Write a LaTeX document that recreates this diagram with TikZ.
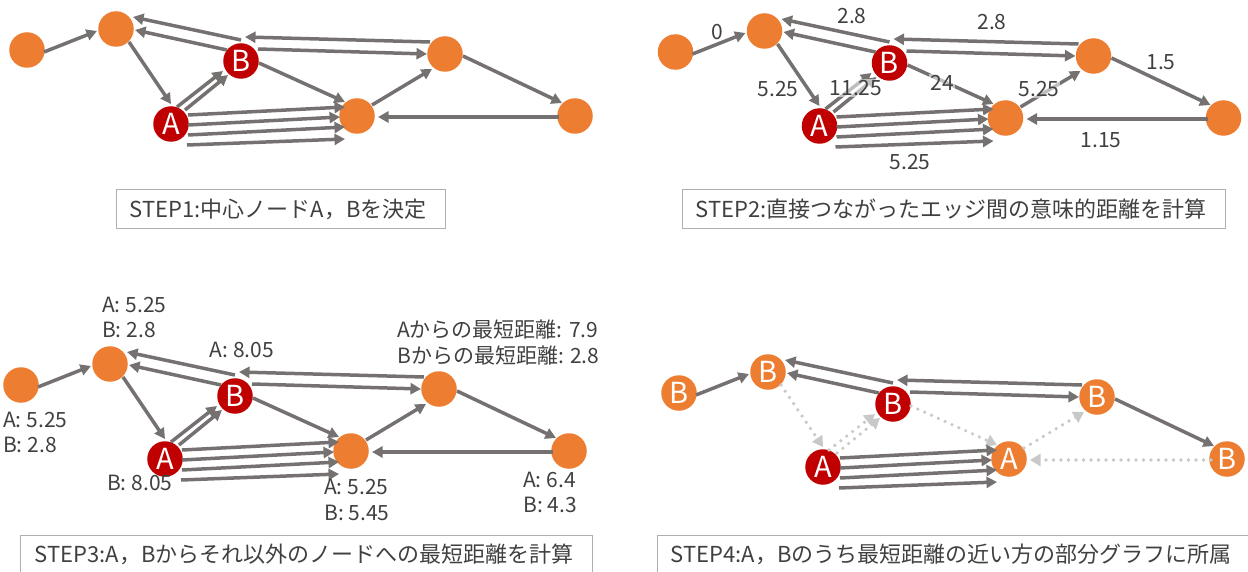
\documentclass[tikz,border=0pt]{standalone}
\usepackage{fontspec}
\setmainfont{Noto Sans CJK JP}
\usetikzlibrary{arrows.meta}
\definecolor{orng}{RGB}{237,125,49}
\definecolor{dred}{RGB}{192,0,0}
\definecolor{egray}{RGB}{118,113,113}
\definecolor{lgray}{RGB}{200,200,200}
\definecolor{tgray}{RGB}{64,64,64}
\definecolor{bgray}{RGB}{175,175,175}
\tikzset{
  gnode/.style={circle, minimum size=35.5pt, inner sep=0pt, text=white,
    font=\fontsize{29}{30}\selectfont},
  onode/.style={gnode, fill=orng},
  rnode/.style={gnode, fill=dred},
  arr/.style={draw=egray, line width=3.5pt, -{Triangle[length=10.5pt,width=11pt]}},
  dotarr/.style={draw=lgray, line width=3.6pt, line cap=round, dash pattern=on 0pt off 7.5pt,
    -{Triangle[length=10.5pt,width=12pt,line cap=butt]}},
  lab/.style={text=tgray, inner sep=0pt, font=\fontsize{21}{25.5}\selectfont},
  halo/.style={fill=white, fill opacity=0.55, text opacity=1, inner sep=1pt},
  capbox/.style={draw=bgray, line width=1.3pt, anchor=north west, inner ysep=0pt,
    align=left, text=tgray, font=\fontsize{22}{24}\selectfont}
}
\newcommand{\placenodes}[8]{%
  \node[onode] (#1n1) at ({#2+27},{#3+50}) {#4};
  \node[onode] (#1n2) at ({#2+116},{#3+29}) {#5};
  \node[rnode] (#1B) at ({#2+241},{#3+61}) {B};
  \node[rnode] (#1A) at ({#2+171},{#3+124}) {A};
  \node[onode] (#1n5) at ({#2+357},{#3+116}) {#6};
  \node[onode] (#1n6) at ({#2+445},{#3+54}) {#7};
  \node[onode] (#1n7) at ({#2+575},{#3+116}) {#8};
}
\newcommand{\E}[5]{\draw[#1] ([shift={(#3)}]#2.center) -- ([shift={(#5)}]#4.center);}
\newcommand{\placeedges}[2]{%
  \E{arr}{#1n1}{17,2}{#1n2}{-19,2}
  \E{arr}{#1B}{0,-21}{#1n2}{17,-12}
  \E{arr}{#1B}{-14,-11}{#1n2}{19,1}
  \E{arr}{#1n6}{-15,-12}{#1B}{4,-24}
  \E{arr}{#1B}{17,-12}{#1n6}{-18,0}
  \E{#2}{#1n2}{13,13}{#1A}{0,-20}
  \E{#2}{#1A}{6,-17}{#1B}{-18,10}
  \E{#2}{#1A}{14,-14}{#1B}{-13,14}
  \E{#2}{#1B}{18,2}{#1n5}{-12,-14}
  \E{arr}{#1A}{17,-9}{#1n5}{-12,-9}
  \E{arr}{#1A}{17,1}{#1n5}{-17,1}
  \E{arr}{#1A}{17,11}{#1n5}{-12,11}
  \E{arr}{#1A}{16,21}{#1n5}{-12,23}
  \E{#2}{#1n5}{15,-11}{#1n6}{-13,15}
  \E{arr}{#1n6}{18,2}{#1n7}{-13,-13}
  \E{#2}{#1n7}{-16,1}{#1n5}{21,1}
}
\begin{document}
\begin{tikzpicture}[x=1pt,y=-1pt]
\useasboundingbox (0,0) rectangle (1248,572);
\clip (0,0) rectangle (1248,572);
% panel 1
\placenodes{p}{0}{0}{}{}{}{}{}
\placeedges{p}{arr}
\node[capbox, minimum width=329pt, minimum height=39pt, text width=303pt, inner xsep=13pt] (cap1) at (116,189) {STEP1:中心ノードA，Bを決定};
% panel 2
\placenodes{q}{648.5}{2}{}{}{}{}{}
\placeedges{q}{arr}
\node[lab] (l0) at (717,32) {0};
\node[lab] (l1) at (852,16) {2.8};
\node[lab] (l2) at (992,22) {2.8};
\node[lab] (l3) at (778,89) {5.25};
\node[lab, halo] (l4) at (856,88) {11.25};
\node[lab, halo] (l5) at (942,83) {24};
\node[lab, halo] (l6) at (1039,89) {5.25};
\node[lab] (l7) at (1161,62) {1.5};
\node[lab] (l8) at (1101,140) {1.15};
\node[lab] (l9) at (910,162) {5.25};
\node[capbox, minimum width=543pt, minimum height=39pt, text width=517pt, inner xsep=13pt] (cap2) at (682,189) {STEP2:直接つながったエッジ間の意味的距離を計算};
% panel 3
\placenodes{r}{-6}{335}{}{}{}{}{}
\placeedges{r}{arr}
\node[lab, align=left, anchor=west] (m1) at (102,317.5) {A: 5.25\\B: 2.8};
\node[lab] (m2) at (242,350) {A: 8.05};
\node[lab, align=left, anchor=west] (m3) at (3,432.5) {A: 5.25\\B: 2.8};
\node[lab, anchor=west] (m4) at (107,483) {B: 8.05};
\node[lab, align=left, anchor=west] (m5) at (397,342.5) {Aからの最短距離: 7.9\\Bからの最短距離: 2.8};
\node[lab, align=left, anchor=west] (m6) at (324,500) {A: 5.25\\B: 5.45};
\node[lab, align=left, anchor=west] (m7) at (523,492.5) {A: 6.4\\B: 4.3};
\node[capbox, minimum width=572pt, minimum height=38pt, text width=544pt, inner xsep=14pt] (cap3) at (20,535) {STEP3:A，Bからそれ以外のノードへの最短距離を計算};
% panel 4
\placenodes{s}{652}{343}{B}{B}{A}{B}{B}
\placeedges{s}{dotarr}
\node[capbox, minimum width=610pt, minimum height=38pt, text width=584pt, inner xsep=13pt] (cap4) at (657,535) {STEP4:A，Bのうち最短距離の近い方の部分グラフに所属};
\end{tikzpicture}
\end{document}
